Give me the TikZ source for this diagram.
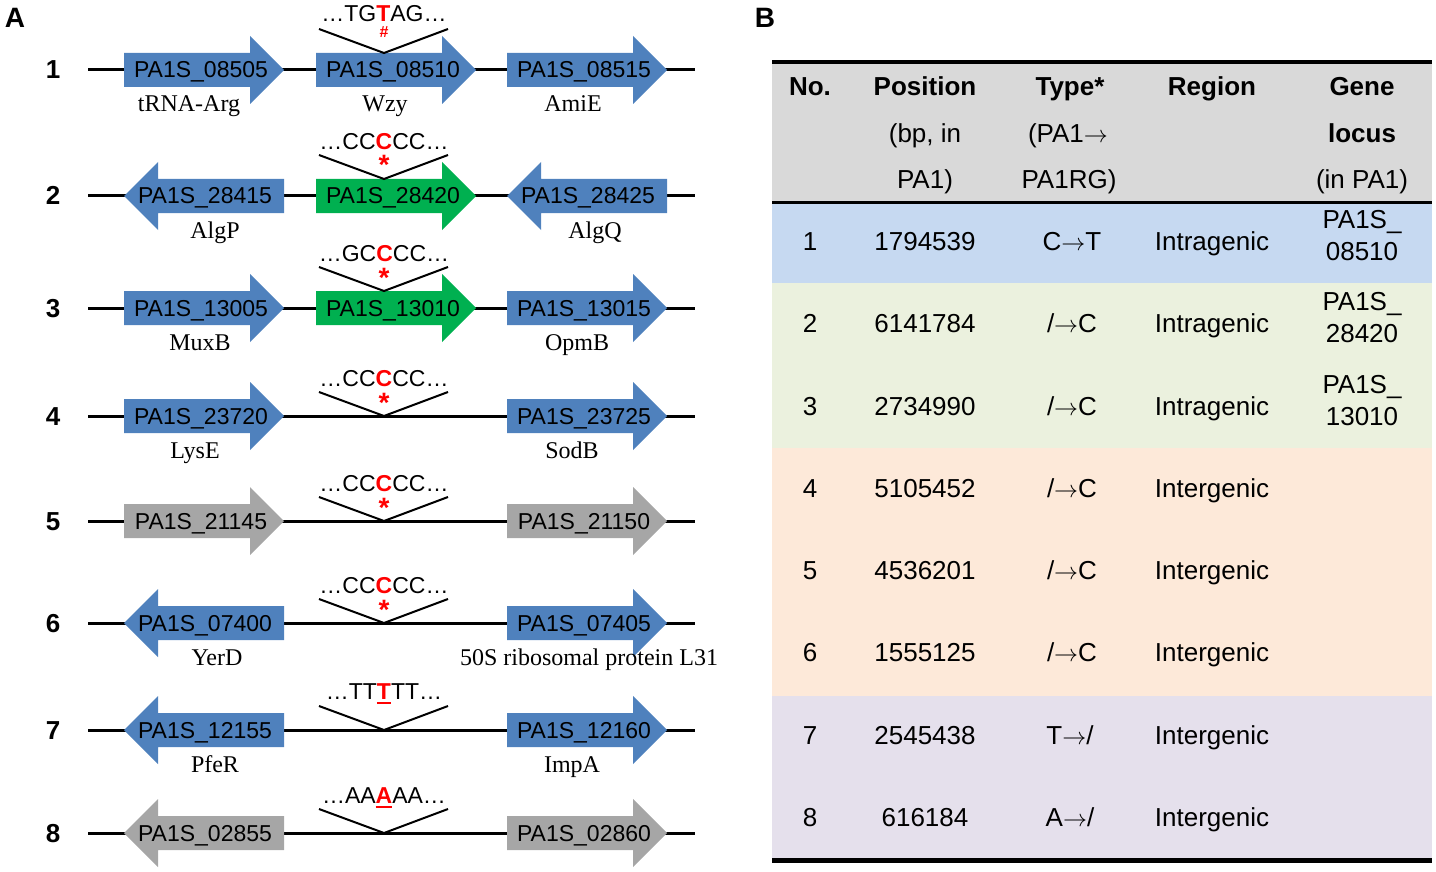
\documentclass[tikz,border=0pt]{standalone}
\usepackage{fontspec}
\setmainfont{Liberation Serif}
\setsansfont{Liberation Sans}

\definecolor{geneblue}{RGB}{79,129,189}
\definecolor{genegreen}{RGB}{0,176,80}
\definecolor{genegrey}{RGB}{166,166,166}
\definecolor{hdrgrey}{RGB}{217,217,217}
\definecolor{rowblue}{RGB}{198,217,241}
\definecolor{rowgreen}{RGB}{235,241,222}
\definecolor{rowpeach}{RGB}{253,233,217}
\definecolor{rowlilac}{RGB}{229,224,236}
\definecolor{mutred}{RGB}{255,0,0}

% gene pointing right: name, tail x, centre y, colour, locus
\newcommand{\generight}[5]{%
  \fill[#4] (#2,#3-17) -- ++(126,0) -- ++(0,-17) -- ++(34,34) -- ++(-34,34) -- ++(0,-17) -- ++(-126,0) -- cycle;
  \node[locus] (#1) at (#2+77,#3+8) {#5};}
% gene pointing left: name, tip x, centre y, colour, locus
\newcommand{\geneleft}[5]{%
  \fill[#4] (#2,#3) -- ++(34,-34) -- ++(0,17) -- ++(126,0) -- ++(0,34) -- ++(-126,0) -- ++(0,17) -- cycle;
  \node[locus] (#1) at (#2+81,#3+8) {#5};}
% thick underline for a deleted base
\newcommand{\mutline}[1]{\setbox0\hbox{#1}\rlap{\rule[-2.5pt]{\wd0}{1pt}}\box0}

\begin{document}
\begin{tikzpicture}[x=0.5pt, y=-0.5pt,
    backbone/.style = {line width=1.5pt},
    vmark/.style = {line width=1pt},
    panel/.style = {font=\sffamily\bfseries\fontsize{14}{16}\selectfont, anchor=base, inner sep=0pt},
    rowno/.style = {font=\sffamily\bfseries\fontsize{13}{15}\selectfont, anchor=base, inner sep=0pt},
    locus/.style = {font=\sffamily\fontsize{11.5}{13}\selectfont, anchor=base, inner sep=0pt},
    gname/.style = {font=\fontsize{12}{14}\selectfont, anchor=base, inner sep=0pt},
    seq/.style = {font=\sffamily\fontsize{11.5}{13}\selectfont, anchor=base, inner sep=0pt},
    star/.style = {font=\sffamily\bfseries\fontsize{14}{16}\selectfont, text=mutred, anchor=base, inner sep=0pt},
    hashmark/.style = {font=\sffamily\bfseries\fontsize{8}{9}\selectfont, text=mutred, anchor=base, inner sep=0pt},
    cell/.style = {font=\sffamily\fontsize{13}{16}\selectfont, anchor=base, inner sep=0pt},
    head/.style = {font=\sffamily\bfseries\fontsize{13}{16}\selectfont, anchor=base, inner sep=0pt}]
\useasboundingbox (0,0) rectangle (1436,872);

\node[panel] (pA) at (15,28) {A};
\node[panel] (pB) at (765,28) {B};

% row 1
\node[rowno] (n1) at (53,79) {1};
\coordinate (r1w) at (88,70);
\coordinate (r1e) at (695,70);
\draw[backbone] (r1w) -- (r1e);
\generight{g08505}{124}{70}{geneblue}{PA1S\_08505}
\generight{g08510}{316}{70}{geneblue}{PA1S\_08510}
\generight{g08515}{507}{70}{geneblue}{PA1S\_08515}
\node[gname] (t08505) at (189,112) {tRNA-Arg};
\node[gname] (t08510) at (385,112) {Wzy};
\node[gname] (t08515) at (573,112) {AmiE};
\coordinate (v1l) at (319,29);
\coordinate (v1a) at (384,53);
\coordinate (v1r) at (448,29);
\draw[vmark] (v1l) -- (v1a) -- (v1r);
\node[seq] (s1) at (384,22) {…TG\textbf{\textcolor{mutred}{T}}AG…};
\node[hashmark] (m1) at (384,38) {\#};

% row 2
\node[rowno] (n2) at (53,205) {2};
\coordinate (r2w) at (88,196);
\coordinate (r2e) at (695,196);
\draw[backbone] (r2w) -- (r2e);
\geneleft{g28415}{124}{196}{geneblue}{PA1S\_28415}
\generight{g28420}{316}{196}{genegreen}{PA1S\_28420}
\geneleft{g28425}{507}{196}{geneblue}{PA1S\_28425}
\node[gname] (t28415) at (215,238) {AlgP};
\node[gname] (t28425) at (595,238) {AlgQ};
\coordinate (v2l) at (319,155);
\coordinate (v2a) at (384,179);
\coordinate (v2r) at (448,155);
\draw[vmark] (v2l) -- (v2a) -- (v2r);
\node[seq] (s2) at (384,150) {…CC\textbf{\textcolor{mutred}{C}}CC…};
\node[star] (m2) at (384,175) {*};

% row 3
\node[rowno] (n3) at (53,317) {3};
\coordinate (r3w) at (88,308);
\coordinate (r3e) at (695,308);
\draw[backbone] (r3w) -- (r3e);
\generight{g13005}{124}{308}{geneblue}{PA1S\_13005}
\generight{g13010}{316}{308}{genegreen}{PA1S\_13010}
\generight{g13015}{507}{308}{geneblue}{PA1S\_13015}
\node[gname] (t13005) at (200,350) {MuxB};
\node[gname] (t13015) at (577,350) {OpmB};
\coordinate (v3l) at (319,267);
\coordinate (v3a) at (384,291);
\coordinate (v3r) at (448,267);
\draw[vmark] (v3l) -- (v3a) -- (v3r);
\node[seq] (s3) at (384,261) {…GC\textbf{\textcolor{mutred}{C}}CC…};
\node[star] (m3) at (384,287) {*};

% row 4
\node[rowno] (n4) at (53,425) {4};
\coordinate (r4w) at (88,416);
\coordinate (r4e) at (695,416);
\draw[backbone] (r4w) -- (r4e);
\generight{g23720}{124}{416}{geneblue}{PA1S\_23720}
\generight{g23725}{507}{416}{geneblue}{PA1S\_23725}
\node[gname] (t23720) at (195,458) {LysE};
\node[gname] (t23725) at (572,458) {SodB};
\coordinate (v4l) at (319,392);
\coordinate (v4a) at (384,416);
\coordinate (v4r) at (448,392);
\draw[vmark] (v4l) -- (v4a) -- (v4r);
\node[seq] (s4) at (384,386) {…CC\textbf{\textcolor{mutred}{C}}CC…};
\node[star] (m4) at (384,412) {*};

% row 5
\node[rowno] (n5) at (53,530) {5};
\coordinate (r5w) at (88,521);
\coordinate (r5e) at (695,521);
\draw[backbone] (r5w) -- (r5e);
\generight{g21145}{124}{521}{genegrey}{PA1S\_21145}
\generight{g21150}{507}{521}{genegrey}{PA1S\_21150}
\coordinate (v5l) at (319,497);
\coordinate (v5a) at (384,521);
\coordinate (v5r) at (448,497);
\draw[vmark] (v5l) -- (v5a) -- (v5r);
\node[seq] (s5) at (384,491) {…CC\textbf{\textcolor{mutred}{C}}CC…};
\node[star] (m5) at (384,517) {*};

% row 6
\node[rowno] (n6) at (53,632) {6};
\coordinate (r6w) at (88,623);
\coordinate (r6e) at (695,623);
\draw[backbone] (r6w) -- (r6e);
\geneleft{g07400}{124}{623}{geneblue}{PA1S\_07400}
\generight{g07405}{507}{623}{geneblue}{PA1S\_07405}
\node[gname] (t07400) at (217,665) {YerD};
\node[gname] (t07405) at (589,665) {50S ribosomal protein L31};
\coordinate (v6l) at (319,599);
\coordinate (v6a) at (384,623);
\coordinate (v6r) at (448,599);
\draw[vmark] (v6l) -- (v6a) -- (v6r);
\node[seq] (s6) at (384,593) {…CC\textbf{\textcolor{mutred}{C}}CC…};
\node[star] (m6) at (384,619) {*};

% row 7
\node[rowno] (n7) at (53,739) {7};
\coordinate (r7w) at (88,730);
\coordinate (r7e) at (695,730);
\draw[backbone] (r7w) -- (r7e);
\geneleft{g12155}{124}{730}{geneblue}{PA1S\_12155}
\generight{g12160}{507}{730}{geneblue}{PA1S\_12160}
\node[gname] (t12155) at (215,772) {PfeR};
\node[gname] (t12160) at (572,772) {ImpA};
\coordinate (v7l) at (319,706);
\coordinate (v7a) at (384,730);
\coordinate (v7r) at (448,706);
\draw[vmark] (v7l) -- (v7a) -- (v7r);
\node[seq] (s7) at (384,699) {…TT\textcolor{mutred}{\mutline{\textbf{T}}}TT…};

% row 8
\node[rowno] (n8) at (53,842) {8};
\coordinate (r8w) at (88,833);
\coordinate (r8e) at (695,833);
\draw[backbone] (r8w) -- (r8e);
\geneleft{g02855}{124}{833}{genegrey}{PA1S\_02855}
\generight{g02860}{507}{833}{genegrey}{PA1S\_02860}
\coordinate (v8l) at (319,809);
\coordinate (v8a) at (384,833);
\coordinate (v8r) at (448,809);
\draw[vmark] (v8l) -- (v8a) -- (v8r);
\node[seq] (s8) at (384,803) {…AA\textcolor{mutred}{\mutline{\textbf{A}}}AA…};

% table
\fill[hdrgrey] (772,62) rectangle (1432,203);
\fill[rowblue] (772,203) rectangle (1432,283);
\fill[rowgreen] (772,283) rectangle (1432,448);
\fill[rowpeach] (772,448) rectangle (1432,696);
\fill[rowlilac] (772,696) rectangle (1432,859);
\draw[line width=2pt] (772,62) -- (1432,62);
\draw[line width=1.5pt] (772,203) -- (1432,203);
\draw[line width=2.5pt] (772,860) -- (1432,860);

\node[head] (hNo) at (810,96) {No.};
\node[head] (hPos) at (925,96) {Position};
\node[cell] (hPos2) at (925,142) {(bp, in};
\node[cell] (hPos3) at (925,189) {PA1)};
\node[head] (hType) at (1070,96) {Type*};
\node[cell] (hType2) at (1068,142) {(PA1$\rightarrow$};
\node[cell] (hType3) at (1069,189) {PA1RG)};
\node[head] (hReg) at (1212,96) {Region};
\node[head] (hLoc) at (1362,96) {Gene};
\node[head] (hLoc2) at (1362,142) {locus};
\node[cell] (hLoc3) at (1362,189) {(in PA1)};

\node[cell] (no1) at (810,250) {1};
\node[cell] (pos1) at (925,250) {1794539};
\node[cell] (typ1) at (1072,250) {C$\rightarrow$T};
\node[cell] (reg1) at (1212,250) {Intragenic};
\node[cell] (loc1a) at (1362,228) {PA1S\_};
\node[cell] (loc1b) at (1362,260) {08510};

\node[cell] (no2) at (810,332) {2};
\node[cell] (pos2) at (925,332) {6141784};
\node[cell] (typ2) at (1072,332) {/$\rightarrow$C};
\node[cell] (reg2) at (1212,332) {Intragenic};
\node[cell] (loc2a) at (1362,310) {PA1S\_};
\node[cell] (loc2b) at (1362,342) {28420};

\node[cell] (no3) at (810,415) {3};
\node[cell] (pos3) at (925,415) {2734990};
\node[cell] (typ3) at (1072,415) {/$\rightarrow$C};
\node[cell] (reg3) at (1212,415) {Intragenic};
\node[cell] (loc3a) at (1362,393) {PA1S\_};
\node[cell] (loc3b) at (1362,425) {13010};

\node[cell] (no4) at (810,497) {4};
\node[cell] (pos4) at (925,497) {5105452};
\node[cell] (typ4) at (1072,497) {/$\rightarrow$C};
\node[cell] (reg4) at (1212,497) {Intergenic};

\node[cell] (no5) at (810,579) {5};
\node[cell] (pos5) at (925,579) {4536201};
\node[cell] (typ5) at (1072,579) {/$\rightarrow$C};
\node[cell] (reg5) at (1212,579) {Intergenic};

\node[cell] (no6) at (810,661) {6};
\node[cell] (pos6) at (925,661) {1555125};
\node[cell] (typ6) at (1072,661) {/$\rightarrow$C};
\node[cell] (reg6) at (1212,661) {Intergenic};

\node[cell] (no7) at (810,744) {7};
\node[cell] (pos7) at (925,744) {2545438};
\node[cell] (typ7) at (1070,744) {T$\rightarrow$/};
\node[cell] (reg7) at (1212,744) {Intergenic};

\node[cell] (no8) at (810,826) {8};
\node[cell] (pos8) at (925,826) {616184};
\node[cell] (typ8) at (1070,826) {A$\rightarrow$/};
\node[cell] (reg8) at (1212,826) {Intergenic};

\end{tikzpicture}
\end{document}
